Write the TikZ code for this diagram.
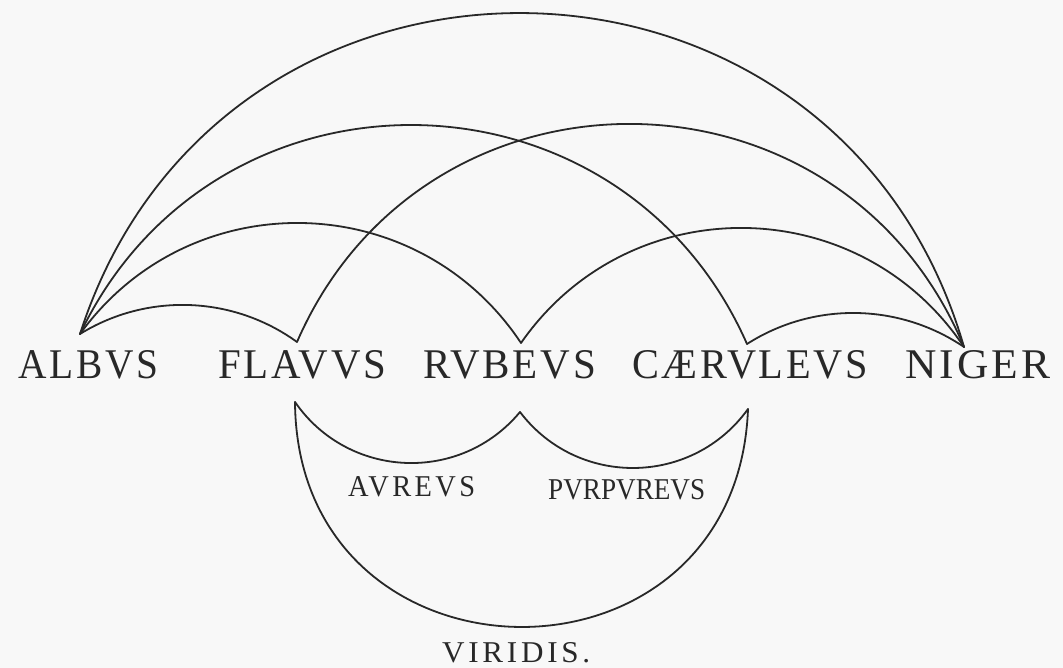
\documentclass[tikz,border=0pt]{standalone}
\usepackage{fontspec}
\setmainfont{Liberation Serif}
\newfontfamily\spacedserif[LetterSpace=12]{Liberation Serif}
\newfontfamily\widerserif[LetterSpace=7]{Liberation Serif}
\usepackage{graphicx}
\definecolor{ink}{RGB}{40,40,40}
\definecolor{paper}{RGB}{248,248,248}
\begin{document}
\begin{tikzpicture}[x=1pt,y=1pt,
  arcline/.style={draw=ink, line width=1.8pt, line cap=round},
  lab/.style={anchor=base west, inner sep=0pt, text=ink}]
\fill[paper] (0,0) rectangle (1063,668);
\useasboundingbox (0,0) rectangle (1063,668);
% end points of the connectors
\coordinate (A) at (80,334);
\coordinate (F) at (297,326);
\coordinate (R) at (521,325);
\coordinate (C) at (747,324);
\coordinate (N) at (964,321);
\coordinate (Fl) at (295,266);
\coordinate (Rl) at (520,256);
\coordinate (Cl) at (748,259);
% labels
\node[lab] (albus) at (18,289) {\resizebox{140pt}{28pt}{\widerserif\fontsize{42}{42}\selectfont ALBVS}};
\node[lab] (flavus) at (218,289) {\resizebox{168pt}{28pt}{\widerserif\fontsize{42}{42}\selectfont FLAVVS}};
\node[lab] (rubeus) at (423,289) {\resizebox{173pt}{28pt}{\widerserif\fontsize{42}{42}\selectfont RVBEVS}};
\node[lab] (caeruleus) at (632,289) {\resizebox{236pt}{28pt}{\widerserif\fontsize{42}{42}\selectfont CÆRVLEVS}};
\node[lab] (niger) at (905,289) {\resizebox{145pt}{28pt}{\widerserif\fontsize{42}{42}\selectfont NIGER}};
\node[lab] (aureus) at (348,171) {\resizebox{127pt}{20pt}{\spacedserif\fontsize{30}{30}\selectfont AVREVS}};
\node[lab] (purpureus) at (548,168) {\resizebox{157pt}{20pt}{\fontsize{30}{30}\selectfont PVRPVREVS}};
\node[lab] (viridis) at (442,5) {\resizebox{148pt}{20pt}{\spacedserif\fontsize{30}{30}\selectfont VIRIDIS.}};
% upper arcs
\draw[arcline] (A) to[out=72.2,in=106.1,distance=456.4pt] (N);
\draw[arcline] (A) to[out=64.5,in=113.8,distance=313.9pt] (C);
\draw[arcline] (F) to[out=66.5,in=112.6,distance=319.6pt] (N);
\draw[arcline] (A) to[out=54.1,in=123.6,distance=187.4pt] (R);
\draw[arcline] (R) to[out=55.2,in=123.8,distance=188.9pt] (N);
\draw[arcline] (A) to[out=31.7,in=144.1,distance=79pt] (F);
\draw[arcline] (C) to[out=32.6,in=145.9,distance=78.8pt] (N);
% lower arcs
\draw[arcline] (Fl) to[out=-55.4,in=230.3,distance=93.6pt] (Rl);
\draw[arcline] (Rl) to[out=-52.8,in=234.3,distance=95.3pt] (Cl);
\draw[arcline] (Fl) to[out=-89.6,in=267.8,distance=295.4pt] (Cl);
\end{tikzpicture}
\end{document}
